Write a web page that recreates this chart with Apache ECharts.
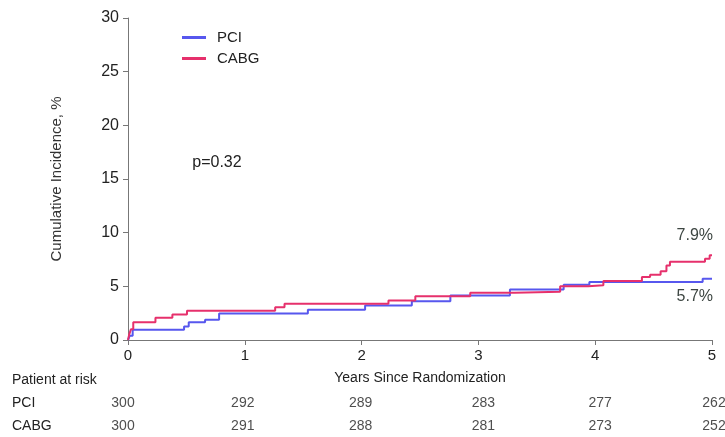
<!DOCTYPE html>
<html><head><meta charset="utf-8">
<script src="https://cdn.jsdelivr.net/npm/echarts@6/dist/echarts.min.js"></script>
<style>html,body{margin:0;padding:0;background:#fff}#c{width:725px;height:437px}</style>
</head><body><div id="c"></div>
<script>
// ---- data ----
const seriesNames = ['PCI', 'CABG'];
const pciCurve = [[0,0],[0.015,0.4],[0.04,0.95],[0.48,1.26],[0.52,1.66],[0.66,1.88],[0.78,2.46],[1.54,2.81],[2.03,3.22],[2.43,3.6],[2.76,4.15],[3.27,4.7],[3.73,5.15],[3.95,5.4],[4.92,5.7],[5.0,5.7]];
const cabgCurve = [[0,0],[0.01,0.5],[0.025,1.0],[0.045,1.65],[0.235,2.07],[0.38,2.38],[0.505,2.72],[1.26,3.06],[1.34,3.37],[2.23,3.68],[2.46,4.08],[2.93,4.4],[3.31,4.5],[3.70,5.0],[3.94,5.1],[4.07,5.5],[4.40,5.86],[4.47,6.08],[4.56,6.4],[4.61,6.95],[4.64,7.3],[4.94,7.57],[4.98,7.9],[5.0,7.9]];
const xTicks = [0, 1, 2, 3, 4, 5];
const yTicks = [0, 5, 10, 15, 20, 25, 30];
const riskTimes = [0, 1, 2, 3, 4, 5];
const pciAtRisk = [300, 292, 289, 283, 277, 262];
const cabgAtRisk = [300, 291, 288, 281, 273, 252];
const pValueText = 'p=0.32';
const xTitle = 'Years Since Randomization';
const yTitle = 'Cumulative Incidence, %';
const riskTitle = 'Patient at risk';

// ---- styling ----
const COLORS = ['#5757ee', '#e6306c'];
const FONT = "'Liberation Sans', Arial, sans-serif";
const NARROW = "'Liberation Sans Narrow', 'Liberation Sans', Arial, sans-serif";
const colOffsets = [-5, -2, -1, 5, 5, 2];

const chart = echarts.init(document.getElementById('c'), null, {renderer: 'canvas'});

function riskSeries(name, values) {
  return {
    type: 'scatter', name: name + ' at risk', xAxisIndex: 1, yAxisIndex: 1,
    symbolSize: 1, itemStyle: {color: 'rgba(0,0,0,0)'}, silent: true,
    data: riskTimes.map((t, i) => ({value: [t, name, values[i]], label: {offset: [colOffsets[i], 0]}})),
    label: {show: true, position: 'inside', formatter: p => String(p.value[2]),
      fontSize: 14, color: '#222', fontFamily: NARROW}
  };
}

const option = {
  animation: false,
  textStyle: {fontFamily: FONT},
  grid: [
    {left: 128, right: 13, top: 18, bottom: 97},
    {left: 128, right: 13, top: 392, height: 46}
  ],
  legend: {
    data: seriesNames, orient: 'vertical', left: 177, top: 25,
    itemWidth: 24, itemHeight: 3, itemGap: 6, icon: 'rect',
    textStyle: {fontSize: 15, color: '#222', padding: [0, 0, 0, 6]}
  },
  xAxis: [
    {type: 'value', gridIndex: 0, min: xTicks[0], max: xTicks[xTicks.length - 1], interval: 1,
      axisLine: {show: true, lineStyle: {color: '#777', width: 1}},
      axisTick: {show: true, length: 5, lineStyle: {color: '#777'}},
      axisLabel: {fontSize: 15, color: '#222', margin: 8},
      splitLine: {show: false},
      name: xTitle, nameLocation: 'middle', nameGap: 31,
      nameTextStyle: {fontSize: 14, color: '#222'}},
    {type: 'value', gridIndex: 1, min: 0, max: 5, show: false}
  ],
  yAxis: [
    {type: 'value', gridIndex: 0, min: yTicks[0], max: yTicks[yTicks.length - 1], interval: 5,
      axisLine: {show: true, lineStyle: {color: '#777', width: 1}},
      axisTick: {show: true, length: 5, lineStyle: {color: '#777'}},
      axisLabel: {fontSize: 16, color: '#222', margin: 9},
      splitLine: {show: false},
      name: yTitle, nameLocation: 'middle', nameGap: 64, nameRotate: 90,
      nameTextStyle: {fontSize: 15, color: '#333', fontFamily: NARROW}},
    {type: 'category', gridIndex: 1, data: seriesNames, inverse: true, show: false}
  ],
  series: [
    {type: 'line', name: seriesNames[0], step: 'end', data: pciCurve, showSymbol: false,
      color: COLORS[0], lineStyle: {width: 2, color: COLORS[0]}, z: 2},
    {type: 'line', name: seriesNames[1], step: 'end', data: cabgCurve, showSymbol: false,
      color: COLORS[1], lineStyle: {width: 2, color: COLORS[1]}, z: 3},
    riskSeries(seriesNames[0], pciAtRisk),
    riskSeries(seriesNames[1], cabgAtRisk)
  ]
};
chart.setOption(option);

const pciEnd = pciCurve[pciCurve.length - 1];
const cabgEnd = cabgCurve[cabgCurve.length - 1];
const pPci = chart.convertToPixel({gridIndex: 0}, pciEnd);
const pCabg = chart.convertToPixel({gridIndex: 0}, cabgEnd);
const rowPci = chart.convertToPixel({xAxisIndex: 1, yAxisIndex: 1}, [0, seriesNames[0]]);
const rowCabg = chart.convertToPixel({xAxisIndex: 1, yAxisIndex: 1}, [0, seriesNames[1]]);
const pPos = chart.convertToPixel({gridIndex: 0}, [0.55, 16.5]);

chart.setOption({
  graphic: [
    {type: 'text', style: {text: cabgEnd[1].toFixed(1) + '%', x: pCabg[0] + 1, y: pCabg[1] - 20,
      textAlign: 'right', textVerticalAlign: 'middle', fontSize: 16, fill: '#3d4642', fontFamily: FONT}},
    {type: 'text', style: {text: pciEnd[1].toFixed(1) + '%', x: pPci[0] + 1, y: pPci[1] + 18,
      textAlign: 'right', textVerticalAlign: 'middle', fontSize: 16, fill: '#3d4642', fontFamily: FONT}},
    {type: 'text', style: {text: pValueText, x: pPos[0], y: pPos[1],
      textAlign: 'left', textVerticalAlign: 'middle', fontSize: 16, fill: '#222', fontFamily: FONT}},
    {type: 'text', style: {text: riskTitle, x: 12, y: rowPci[1] - 23,
      textAlign: 'left', textVerticalAlign: 'middle', fontSize: 14, fill: '#222', fontFamily: NARROW}},
    {type: 'text', style: {text: seriesNames[0], x: 12, y: rowPci[1],
      textAlign: 'left', textVerticalAlign: 'middle', fontSize: 14, fill: '#222', fontFamily: NARROW}},
    {type: 'text', style: {text: seriesNames[1], x: 12, y: rowCabg[1],
      textAlign: 'left', textVerticalAlign: 'middle', fontSize: 14, fill: '#222', fontFamily: NARROW}}
  ]
});
</script></body></html>
